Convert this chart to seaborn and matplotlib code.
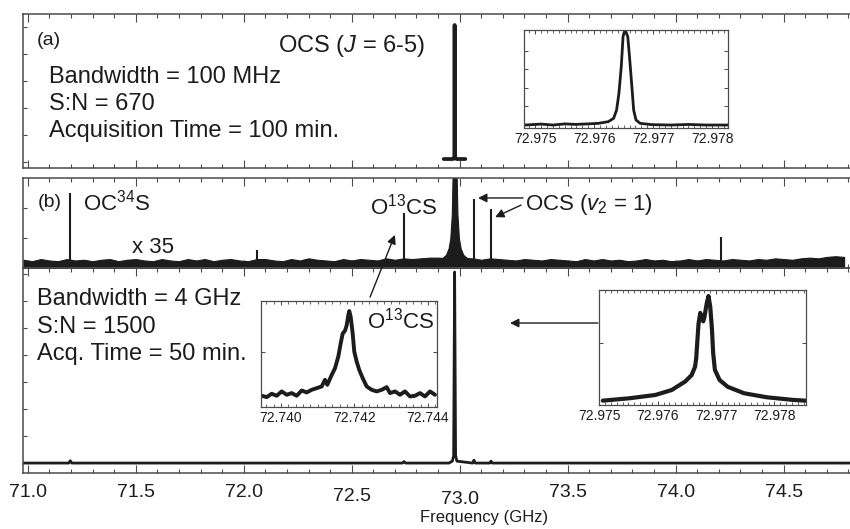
import numpy as np
import matplotlib
matplotlib.use("Agg")
import matplotlib.pyplot as plt
import matplotlib.transforms as mtrans
from matplotlib.ticker import MultipleLocator, FixedLocator, NullFormatter, FormatStrFormatter
import seaborn as sns

# ---------------- data ----------------
# (a) 100 MHz segment around OCS J=6-5 (GHz, relative intensity)
a_freq = [72.926, 72.940, 72.955, 72.970, 72.9755, 72.9762, 72.9765, 72.9768, 72.9775, 72.985, 73.000, 73.015, 73.026]
a_int = [0.0, 0.0, 0.0, 0.0, 0.02, 0.5, 1.0, 0.5, 0.02, 0.0, 0.0, 0.0, 0.0]

# inset of (a)
ia_freq = [72.97483, 72.97510, 72.97530, 72.97550, 72.97568, 72.97590, 72.97607, 72.97624, 72.97633,
           72.97638, 72.97642, 72.97646, 72.97649, 72.97651, 72.97654, 72.97657, 72.97660, 72.97664,
           72.97667, 72.97671, 72.97678, 72.97698, 72.97730, 72.97760, 72.97790, 72.97827]
ia_int = [0.0, 0.01, 0.0, 0.012, 0.007, 0.012, 0.018, 0.036, 0.072, 0.16, 0.34, 0.63, 0.95, 1.0, 1.0,
          0.95, 0.73, 0.41, 0.16, 0.054, 0.018, 0.004, 0.0, 0.006, 0.0, 0.0]
ia_ticks = [72.975, 72.976, 72.977, 72.978]

# (b) x35 strip: weak lines
line_freq = [71.197, 72.061, 72.742, 73.066, 73.145, 74.210]
line_x35 = [1.00, 0.20, 0.72, 0.92, 0.77, 0.38]
# wings of the main line (offset GHz, x35 intensity)
wing_off = [-0.075, -0.055, -0.040, -0.028, -0.020, -0.013, -0.009, -0.005, 0.0,
            0.005, 0.009, 0.013, 0.020, 0.028, 0.040, 0.055, 0.075]
wing_x35 = [0.07, 0.09, 0.13, 0.22, 0.36, 0.70, 1.3, 2.5, 4.0,
            2.5, 1.3, 0.70, 0.36, 0.22, 0.13, 0.09, 0.07]
main_freq = 72.9765
# noise band upper edge (x35 units), sampled every 0.04 GHz from 70.98
noise_start, noise_step = 70.98, 0.04
noise_x35 = [0.06, 0.04, 0.07, 0.05, 0.04, 0.07, 0.05, 0.06, 0.04, 0.06,
             0.07, 0.04, 0.06, 0.07, 0.05, 0.04, 0.07, 0.05, 0.04, 0.07,
             0.05, 0.07, 0.04, 0.06, 0.07, 0.05, 0.04, 0.07, 0.07, 0.05,
             0.04, 0.07, 0.05, 0.08, 0.06, 0.05, 0.04, 0.07, 0.05, 0.07,
             0.06, 0.05, 0.08, 0.06, 0.08, 0.07, 0.08, 0.09, 0.09, 0.08,
             0.09, 0.08, 0.08, 0.06, 0.08, 0.07, 0.06, 0.05, 0.07, 0.06,
             0.05, 0.07, 0.06, 0.05, 0.04, 0.07, 0.05, 0.07, 0.05, 0.06,
             0.04, 0.05, 0.07, 0.05, 0.06, 0.04, 0.05, 0.07, 0.05, 0.07,
             0.06, 0.05, 0.07, 0.06, 0.05, 0.07, 0.06, 0.08, 0.07, 0.06,
             0.08, 0.09, 0.08, 0.10, 0.11, 0.10]

# (b) lower: 4 GHz broadband spectrum
c_freq = [70.976, 71.190, 71.197, 71.204, 72.735, 72.742, 72.749, 72.950, 72.966, 72.972, 72.9765,
          72.981, 72.987, 73.060, 73.066, 73.072, 73.139, 73.145, 73.151, 74.835]
c_int = [0.0, 0.0, 0.012, 0.0, 0.0, 0.008, 0.0, 0.0, 0.01, 0.04, 1.0,
         0.04, 0.01, 0.0, 0.015, 0.0, 0.0, 0.01, 0.0, 0.0]

# O13CS inset (offset from 72.740 GHz in kHz)
io_off_khz = [-525, -389, -253, -117, 19, 155, 291, 427, 563, 699, 835, 971, 1107, 1197, 1260, 1380,
              1469, 1559, 1624, 1679, 1741, 1788, 1831, 1858, 1897, 1951, 1994, 2060, 2130, 2223, 2332,
              2468, 2604, 2740, 2876, 2966, 3102, 3238, 3374, 3510, 3646, 3782, 3918, 4054, 4190]
io_int = [-0.012, -0.028, 0.012, -0.012, 0.04, 0, 0.02, -0.012, 0.051, 0.028, 0.059, 0.079, 0.099,
          0.178, 0.119, 0.237, 0.316, 0.455, 0.613, 0.731, 0.763, 0.83, 0.949, 1.0, 0.929, 0.731,
          0.514, 0.395, 0.296, 0.198, 0.099, 0.059, 0.04, 0.059, 0.091, 0.02, 0.04, 0, 0.04, -0.02,
          -0.012, 0.02, -0.02, 0.04, 0]
io_ticks = [72.740, 72.742, 72.744]

# main line inset of lower panel
ir_freq = [72.97506, 72.97552, 72.97596, 72.97624, 72.97647, 72.97658, 72.97664, 72.97666, 72.97668,
           72.97670, 72.97673, 72.97675, 72.97678, 72.97680, 72.97684, 72.97687, 72.97690, 72.97693,
           72.97695, 72.97698, 72.97706, 72.97720, 72.97748, 72.97787, 72.97832, 72.97853]
ir_int = [0.009, 0.032, 0.063, 0.11, 0.19, 0.25, 0.33, 0.41, 0.58, 0.74, 0.84, 0.79, 0.76, 0.80, 0.93,
          1.0, 0.90, 0.68, 0.46, 0.30, 0.205, 0.14, 0.079, 0.041, 0.016, 0.009]
ir_ticks = [72.975, 72.976, 72.977, 72.978]

main_ticks = [71.0, 71.5, 72.0, 72.5, 73.0, 73.5, 74.0, 74.5]

# ---------------- style ----------------
sns.set_theme(style="ticks")
plt.rcParams["font.family"] = ["Liberation Sans", "DejaVu Sans"]
plt.rcParams["mathtext.fontset"] = "custom"
plt.rcParams["mathtext.rm"] = "Liberation Sans"
plt.rcParams["mathtext.it"] = "Liberation Sans:italic"
plt.rcParams["mathtext.bf"] = "Liberation Sans:bold"

INK = "#1c1c1c"
SPINE = "#4a4a4a"

W, H = 850, 529
fig = plt.figure(figsize=(8.5, 5.29), dpi=100)
fig.patch.set_facecolor("white")


def rect(l, t, r, b):
    return [l / W, 1 - b / H, (r - l) / W, (b - t) / H]


def fxy(x, y):
    return (x / W, 1 - y / H)


XL = (70.978, 74.835)

ax_a = fig.add_axes(rect(23, 14, 856, 168))
ax_b = fig.add_axes(rect(23, 178, 856, 268))
ax_c = fig.add_axes(rect(23, 268, 856, 473))

for ax in (ax_a, ax_b, ax_c):
    ax.set_facecolor("none")
    ax.set_xlim(*XL)
    ax.xaxis.set_major_locator(FixedLocator(main_ticks))
    ax.xaxis.set_minor_locator(MultipleLocator(0.1))
    ax.tick_params(axis="x", which="major", direction="in", top=True, bottom=True,
                   length=6, width=0.8, color=SPINE)
    ax.tick_params(axis="x", which="minor", direction="in", top=True, bottom=True,
                   length=3, width=0.8, color=SPINE)
    ax.tick_params(axis="y", which="both", direction="in", left=True, right=False,
                   labelleft=False, length=3, width=0.8, color=SPINE)
    for s in ax.spines.values():
        s.set_color(SPINE)
        s.set_linewidth(1.1)
    ax.set_xlabel("")
    ax.set_ylabel("")

ax_a.tick_params(axis="x", labelbottom=False)
ax_b.tick_params(axis="x", labelbottom=False)
ax_c.tick_params(axis="x", labelsize=14, labelcolor=INK, pad=8)
ax_c.xaxis.set_major_formatter(FormatStrFormatter("%.1f"))

# ---- panel (a)
ax_a.set_ylim(-0.067, 1.082)
ax_a.yaxis.set_major_locator(FixedLocator([-0.022, 0.179, 0.381, 0.582, 0.784, 0.985]))
sns.lineplot(x=a_freq, y=a_int, ax=ax_a, color=INK, lw=2.7, sort=False, estimator=None)

# ---- panel (b) strip
ax_b.set_ylim(-0.056, 1.211)
ax_b.yaxis.set_major_locator(FixedLocator([0.37, 0.79]))
nx = [noise_start + noise_step * i for i in range(len(noise_x35))]
ax_b.fill_between(nx, -0.06, noise_x35, color=INK, lw=0.8)
wx = [main_freq + o for o in wing_off]
ax_b.fill_between(wx, -0.06, wing_x35, color=INK, lw=0.8)
ax_b.vlines(line_freq, 0, line_x35, color=INK, lw=1.5)

# ---- panel (b) lower
ax_c.set_ylim(-0.052, 1.021)
ax_c.yaxis.set_major_locator(FixedLocator([0.141, 0.283, 0.424, 0.565, 0.707, 0.848, 0.99]))
sns.lineplot(x=c_freq, y=c_int, ax=ax_c, color=INK, lw=2.0, sort=False, estimator=None)

# ---- insets
def style_inset(ax, labelsize):
    ax.set_facecolor("white")
    for s in ax.spines.values():
        s.set_color(SPINE)
        s.set_linewidth(0.9)
    ax.tick_params(axis="x", which="major", direction="in", top=True, bottom=True,
                   length=3, width=0.7, color=SPINE, labelsize=labelsize, labelcolor=INK, pad=3)
    ax.tick_params(axis="x", which="minor", direction="in", top=True, bottom=True,
                   length=2, width=0.6, color=SPINE)
    ax.tick_params(axis="y", which="both", direction="in", left=True, right=True,
                   labelleft=False, length=3, width=0.7, color=SPINE)
    ax.set_xlabel("")
    ax.set_ylabel("")


ins_a = fig.add_axes(rect(524, 30, 728, 128))
sns.lineplot(x=ia_freq, y=ia_int, ax=ins_a, color=INK, lw=2.0, sort=False, estimator=None)
ins_a.set_xlim(72.97481, 72.97827)
ins_a.set_ylim(-0.032, 1.022)
ins_a.xaxis.set_major_locator(FixedLocator(ia_ticks))
ins_a.xaxis.set_minor_locator(MultipleLocator(0.0001))
ins_a.xaxis.set_major_formatter(FormatStrFormatter("%.3f"))
ins_a.yaxis.set_major_locator(FixedLocator([0.2, 0.4, 0.6, 0.8]))
style_inset(ins_a, 10)

ins_o = fig.add_axes(rect(261, 301, 437, 407))
io_freq = [72.740 + k * 1e-6 for k in io_off_khz]
sns.lineplot(x=io_freq, y=io_int, ax=ins_o, color=INK, lw=2.8, sort=False, estimator=None)
ins_o.set_xlim(72.739456, 72.744245)
ins_o.set_ylim(-0.146, 1.119)
ins_o.xaxis.set_major_locator(FixedLocator(io_ticks))
ins_o.xaxis.set_minor_locator(MultipleLocator(0.0002))
ins_o.xaxis.set_major_formatter(FormatStrFormatter("%.3f"))
ins_o.yaxis.set_major_locator(FixedLocator([0.51]))
style_inset(ins_o, 10)

ins_r = fig.add_axes(rect(599, 290, 806, 405))
sns.lineplot(x=ir_freq, y=ir_int, ax=ins_r, color=INK, lw=3.0, sort=False, estimator=None)
ins_r.set_xlim(72.974995, 72.97854)
ins_r.set_ylim(-0.032, 1.057)
ins_r.xaxis.set_major_locator(FixedLocator(ir_ticks))
ins_r.xaxis.set_minor_locator(MultipleLocator(0.0001))
ins_r.xaxis.set_major_formatter(FormatStrFormatter("%.3f"))
ins_r.yaxis.set_major_locator(FixedLocator([0.555]))
style_inset(ins_r, 10)

# shift two mis-registered main tick labels as in original
fig.canvas.draw()
for lab in ax_c.get_xticklabels():
    t = lab.get_text()
    if t in ("72.5", "73.0"):
        dy = -4 if t == "72.5" else -7
        lab.set_transform(lab.get_transform() + mtrans.ScaledTranslation(0, dy / 100, fig.dpi_scale_trans))

# ---------------- texts ----------------
def T(x, y, s, size=17, **kw):
    fig.text(*fxy(x, y), s, fontsize=size, color=INK, ha=kw.pop("ha", "left"),
             va=kw.pop("va", "baseline"), **kw)


T(37, 45, "(a)", 14)
T(278, 52, r"OCS ($J$ = 6-5)", 17)
T(49, 83, "Bandwidth = 100 MHz")
T(49, 110, "S:N = 670")
T(49, 137, "Acquisition Time = 100 min.")

T(38, 207, "(b)", 14)
T(83, 211, r"OC$^{34}$S", 16)
T(132, 253, "x 35", 16)
T(370, 215, r"O$^{13}$CS", 16)
T(525, 210, r"OCS ($v_2$ = 1)", 16)

T(37, 305, "Bandwidth = 4 GHz")
T(37, 333, "S:N = 1500")
T(37, 360, "Acq. Time = 50 min.")
T(367, 328, r"O$^{13}$CS", 16)

T(484, 522, "Frequency (GHz)", 12, ha="center")

# ---------------- arrows ----------------
AP = dict(arrowstyle="-|>", color=INK, lw=1.0, mutation_scale=13, shrinkA=0, shrinkB=0)
# from O13CS inset to O13CS line
ax_c.annotate("", xy=(72.700, 0.41), xycoords=ax_b.transData,
              xytext=(72.585, 0.869), textcoords="data", arrowprops=AP, annotation_clip=False)
# from main-line inset toward the main line
ax_c.annotate("", xy=(73.233, 0.733), xycoords="data",
              xytext=(73.640, 0.733), textcoords="data", arrowprops=AP, annotation_clip=False)
# OCS v2=1 arrows
ax_b.annotate("", xy=(73.085, 0.93), xycoords="data",
              xytext=(73.293, 0.93), textcoords="data", arrowprops=AP, annotation_clip=False)
ax_b.annotate("", xy=(73.164, 0.66), xycoords="data",
              xytext=(73.284, 0.83), textcoords="data", arrowprops=AP, annotation_clip=False)

fig.savefig("out.png", dpi=100, facecolor="white")
